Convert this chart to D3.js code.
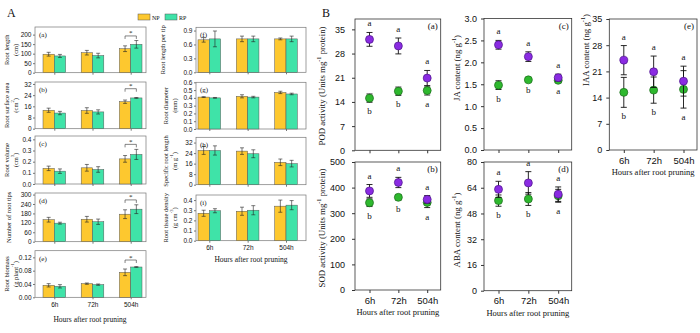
<!DOCTYPE html>
<html>
<head>
<meta charset="utf-8">
<script src="https://cdn.jsdelivr.net/npm/d3@7"></script>
<style>
  body { margin: 0; background: #fff; }
  svg { display: block; font-family: "Liberation Serif", "Times New Roman", serif; }
</style>
</head>
<body>
<svg id="chart" width="700" height="333"></svg>
<script>
var hours = ['6h', '72h', '504h'];

// ---- panel A (bars), NP = yellow, RP = green ----
var rootLengthNP = [97, 105, 126],       rootLengthNPErr = [10, 12, 15];
var rootLengthRP = [88, 90, 149],        rootLengthRPErr = [8, 12, 20];
var surfaceNP = [13.2, 13.0, 19.3],      surfaceNPErr = [1.5, 2.0, 1.2];
var surfaceRP = [11.2, 12.0, 22.0],      surfaceRPErr = [1.2, 1.5, 0.3];
var volumeNP = [0.14, 0.145, 0.225],     volumeNPErr = [0.02, 0.03, 0.03];
var volumeRP = [0.115, 0.13, 0.265],     volumeRPErr = [0.02, 0.025, 0.045];
var tipsNP = [140, 143, 175],            tipsNPErr = [15, 18, 28];
var tipsRP = [118, 127, 207],            tipsRPErr = [6, 17, 28];
var biomassNP = [0.036, 0.041, 0.075],   biomassNPErr = [0.005, 0.002, 0.01];
var biomassRP = [0.033, 0.038, 0.091],   biomassRPErr = [0.005, 0.002, 0.001];
var perTipNP = [0.70, 0.72, 0.72],       perTipNPErr = [0.05, 0.06, 0.02];
var perTipRP = [0.72, 0.72, 0.72],       perTipRPErr = [0.17, 0.06, 0.06];
var diameterNP = [0.41, 0.42, 0.47],     diameterNPErr = [0.005, 0.02, 0.015];
var diameterRP = [0.40, 0.41, 0.45],     diameterRPErr = [0.005, 0.01, 0.01];
var srlNP = [26, 25.5, 17],              srlNPErr = [3, 2.5, 2.5];
var srlRP = [26, 23.5, 16],              srlRPErr = [3.5, 3, 2.5];
var densityNP = [0.27, 0.29, 0.34],      densityNPErr = [0.03, 0.04, 0.06];
var densityRP = [0.295, 0.30, 0.35],     densityRPErr = [0.02, 0.045, 0.045];

// ---- panel B (points), green / purple ----
var podGreen = [15.1, 17.1, 17.3],       podGreenErr = [1.2, 1.2, 1.3];
var podPurple = [32.1, 30.2, 20.9],      podPurpleErr = [2.0, 2.3, 2.2];
var sodGreen = [341, 362, 342],          sodGreenErr = [15, 10, 20];
var sodPurple = [387, 420, 354],         sodPurpleErr = [25, 20, 15];
var jaGreen = [1.48, 1.60, 1.59],        jaGreenErr = [0.1, 0.03, 0.04];
var jaPurple = [2.40, 2.13, 1.65],       jaPurpleErr = [0.1, 0.11, 0.08];
var abaGreen = [56, 57, 59],             abaGreenErr = [3.5, 4, 4];
var abaPurple = [63, 67, 60],            abaPurpleErr = [5, 7, 4.5];
var iaaGreen = [15.4, 16.0, 16.2],       iaaGreenErr = [4, 3.5, 5];
var iaaPurple = [24.0, 20.9, 18.4],      iaaPurpleErr = [3.9, 4.2, 4];
var lettersPurple = ['a', 'a', 'a'];
var lettersGreen = ['b', 'b', 'a'];

var NP_COLOR = '#fdc82f', RP_COLOR = '#3fe3a8';
var GREEN_DOT = '#2eb82e', PURPLE_DOT = '#8a2be2';
var INK = '#111';

var svg = d3.select('#chart');

// text with ^sup^ parts
function richText(sel, str, fs) {
  var parts = str.split('^');
  parts.forEach(function (t, i) {
    if (!t) return;
    if (i % 2 == 1) {
      sel.append('tspan').attr('font-size', fs * 0.7).attr('dy', -fs * 0.35).text(t);
    }
    else {
      sel.append('tspan').attr('dy', i > 0 ? fs * 0.35 : 0).text(t);
    }
  });
}

var colLeft = { x0: 35, x1: 146, range: [54.3, 130.7], titleX: [6, 14.5] };
var colRight = { x0: 196, x1: 306, range: [209.3, 286], titleX: [165, 173.5] };

function drawBarPanel(p) {
  var g = svg.append('g');
  var col = p.col;
  var y = d3.scaleLinear().domain([0, p.max]).range([p.y1, p.y0]);
  var x = d3.scalePoint().domain(hours).range(col.range);
  var bw = 11.3;

  g.append('rect')
    .attr('x', col.x0).attr('y', p.y0)
    .attr('width', col.x1 - col.x0).attr('height', p.y1 - p.y0)
    .attr('fill', 'none').attr('stroke', '#777').attr('stroke-width', 0.7);

  var ya = g.append('g').attr('transform', 'translate(' + col.x0 + ',0)')
    .call(d3.axisLeft(y).tickValues(p.ticks).tickSize(2).tickPadding(1.5).tickFormat(d3.format(p.fmt)));
  ya.select('.domain').remove();
  ya.selectAll('text').attr('font-size', 6.5).attr('font-family', null).attr('fill', INK);
  ya.selectAll('line').attr('stroke', '#777');

  var xa = g.append('g').attr('transform', 'translate(0,' + p.y1 + ')')
    .call(d3.axisBottom(x).tickSize(2).tickPadding(3).tickFormat(p.xlabels ? null : ''));
  xa.select('.domain').remove();
  xa.selectAll('text').attr('font-size', 6.5).attr('font-family', null).attr('fill', INK);
  xa.selectAll('line').attr('stroke', '#777');

  var series = [
    { vals: p.np, err: p.npErr, color: NP_COLOR, off: -bw },
    { vals: p.rp, err: p.rpErr, color: RP_COLOR, off: 0 }
  ];
  series.forEach(function (s) {
    var sg = g.append('g');
    sg.selectAll('rect').data(s.vals).enter().append('rect')
      .attr('x', function (d, i) { return x(hours[i]) + s.off; })
      .attr('y', function (d) { return y(d); })
      .attr('width', bw)
      .attr('height', function (d) { return p.y1 - y(d); })
      .attr('fill', s.color).attr('stroke', '#555').attr('stroke-width', 0.5);
    var eg = sg.selectAll('g.err').data(s.vals).enter().append('g').attr('class', 'err');
    eg.each(function (d, i) {
      var cx = x(hours[i]) + s.off + bw / 2;
      var e = s.err[i];
      var el = d3.select(this);
      el.append('line').attr('x1', cx).attr('x2', cx).attr('y1', y(d - e)).attr('y2', y(d + e));
      el.append('line').attr('x1', cx - 2).attr('x2', cx + 2).attr('y1', y(d - e)).attr('y2', y(d - e));
      el.append('line').attr('x1', cx - 2).attr('x2', cx + 2).attr('y1', y(d + e)).attr('y2', y(d + e));
      el.selectAll('line').attr('stroke', '#222').attr('stroke-width', 0.6);
    });
  });

  if (p.sig != null) {
    var bx0 = x('504h') - bw / 2, bx1 = x('504h') + bw / 2, by = y(p.sig);
    g.append('path')
      .attr('d', 'M' + bx0 + ',' + (by + 3) + 'V' + by + 'H' + bx1 + 'V' + (by + 3))
      .attr('fill', 'none').attr('stroke', '#333').attr('stroke-width', 0.6);
    g.append('text').attr('x', (bx0 + bx1) / 2).attr('y', by - 0.5)
      .attr('text-anchor', 'middle').attr('font-size', 7).attr('fill', INK).text('*');
  }

  g.append('text').attr('x', col.x0 + 4).attr('y', p.y0 + 10)
    .attr('font-size', 7).attr('fill', INK).text(p.label);

  var cy = (p.y0 + p.y1) / 2;
  p.title.forEach(function (line, i) {
    var tx = p.title.length == 1 ? p.singleX : col.titleX[i];
    var t = g.append('text')
      .attr('transform', 'translate(' + tx + ',' + cy + ') rotate(-90)')
      .attr('text-anchor', 'middle').attr('dominant-baseline', 'central')
      .attr('font-size', 6.5).attr('fill', INK);
    richText(t, line, 6.5);
  });
}

var barPanels = [
  { col: colLeft, y0: 27, y1: 72.7, max: 240, ticks: [0, 50, 100, 150, 200], fmt: 'd',
    np: rootLengthNP, npErr: rootLengthNPErr, rp: rootLengthRP, rpErr: rootLengthRPErr,
    sig: 193, label: '(a)', title: ['Root length', '(cm)'] },
  { col: colLeft, y0: 82, y1: 128.7, max: 33.4, ticks: [0, 8, 16, 24, 32], fmt: 'd',
    np: surfaceNP, npErr: surfaceNPErr, rp: surfaceRP, rpErr: surfaceRPErr,
    sig: 28.6, label: '(b)', title: ['Root surface area', '(cm^2^)'] },
  { col: colLeft, y0: 136, y1: 184, max: 0.43, ticks: [0, 0.1, 0.2, 0.3, 0.4], fmt: '.1f',
    np: volumeNP, npErr: volumeNPErr, rp: volumeRP, rpErr: volumeRPErr,
    sig: 0.355, label: '(c)', title: ['Root volume', '(cm^3^)'] },
  { col: colLeft, y0: 193, y1: 241.7, max: 310, ticks: [0, 60, 120, 180, 240, 300], fmt: 'd',
    np: tipsNP, npErr: tipsNPErr, rp: tipsRP, rpErr: tipsRPErr,
    sig: 266, label: '(d)', title: ['Number of root tips'], singleX: 8 },
  { col: colLeft, y0: 250.7, y1: 297.3, max: 0.14, ticks: [0, 0.04, 0.08, 0.12], fmt: '.2f',
    np: biomassNP, npErr: biomassNPErr, rp: biomassRP, rpErr: biomassRPErr,
    sig: 0.112, label: '(e)', title: ['Root biomass', '(g plant^-1^)'], xlabels: true },
  { col: colRight, y0: 27.3, y1: 72.3, max: 0.97, ticks: [0, 0.3, 0.6, 0.9], fmt: '.1f',
    np: perTipNP, npErr: perTipNPErr, rp: perTipRP, rpErr: perTipRPErr,
    sig: null, label: '(f)', title: ['Root length per tip'], singleX: 162 },
  { col: colRight, y0: 82.3, y1: 129, max: 0.6, ticks: [0, 0.1, 0.2, 0.3, 0.4, 0.5, 0.6], fmt: '.1f',
    np: diameterNP, npErr: diameterNPErr, rp: diameterRP, rpErr: diameterRPErr,
    sig: null, label: '(g)', title: ['Root diameter', '(mm)'] },
  { col: colRight, y0: 137.3, y1: 184.7, max: 36, ticks: [0, 8, 16, 24, 32], fmt: 'd',
    np: srlNP, npErr: srlNPErr, rp: srlRP, rpErr: srlRPErr,
    sig: null, label: '(h)', title: ['Specific root length', '(m g^-1^)'] },
  { col: colRight, y0: 195, y1: 240.7, max: 0.45, ticks: [0, 0.1, 0.2, 0.3, 0.4], fmt: '.1f',
    np: densityNP, npErr: densityNPErr, rp: densityRP, rpErr: densityRPErr,
    sig: null, label: '(i)', title: ['Root tissue density', '(g cm^-3^)'], xlabels: true }
];
barPanels.forEach(drawBarPanel);

// panel A extras
svg.append('text').attr('x', 7).attr('y', 17).attr('font-size', 12).attr('fill', INK).text('A');
var legend = [{ name: 'NP', color: NP_COLOR, x: 138 }, { name: 'RP', color: RP_COLOR, x: 165 }];
legend.forEach(function (l) {
  svg.append('rect').attr('x', l.x).attr('y', 14).attr('width', 12).attr('height', 6)
    .attr('fill', l.color).attr('stroke', '#555').attr('stroke-width', 0.5);
  svg.append('text').attr('x', l.x + 14).attr('y', 19.5).attr('font-size', 6).attr('fill', INK).text(l.name);
});
svg.append('text').attr('x', 90).attr('y', 322).attr('text-anchor', 'middle')
  .attr('font-size', 7.5).attr('fill', INK).text('Hours after root pruning');
svg.append('text').attr('x', 251).attr('y', 262).attr('text-anchor', 'middle')
  .attr('font-size', 7.5).attr('fill', INK).text('Hours after root pruning');

// ---- panel B ----
function drawPointPanel(p) {
  var g = svg.append('g');
  var y = d3.scaleLinear().domain([0, p.max]).range([p.y1, p.y0]);
  var x = d3.scalePoint().domain(hours).range([p.x0 + 14.5, p.x1 - 13.5]);

  g.append('rect')
    .attr('x', p.x0).attr('y', p.y0)
    .attr('width', p.x1 - p.x0).attr('height', p.y1 - p.y0)
    .attr('fill', 'none').attr('stroke', '#333').attr('stroke-width', 0.8);

  var ya = g.append('g').attr('transform', 'translate(' + p.x0 + ',0)')
    .call(d3.axisLeft(y).tickValues(p.ticks).tickSize(3).tickPadding(p.pad || 4).tickFormat(d3.format(p.fmt)));
  ya.select('.domain').remove();
  ya.selectAll('text').attr('font-size', 9).attr('font-family', null).attr('fill', INK);
  ya.selectAll('line').attr('stroke', '#333');

  var xa = g.append('g').attr('transform', 'translate(0,' + p.y1 + ')')
    .call(d3.axisBottom(x).tickSize(3).tickPadding(4).tickFormat(p.xlabels ? null : ''));
  xa.select('.domain').remove();
  xa.selectAll('text').attr('font-size', 9.5).attr('font-family', null).attr('fill', INK);
  xa.selectAll('line').attr('stroke', '#333');

  var series = [
    { vals: p.green, err: p.greenErr, color: GREEN_DOT, stroke: '#1b6a1b', letters: lettersGreen, above: false },
    { vals: p.purple, err: p.purpleErr, color: PURPLE_DOT, stroke: '#4b1487', letters: lettersPurple, above: true }
  ];
  series.forEach(function (s) {
    var sg = g.append('g');
    s.vals.forEach(function (d, i) {
      var cx = x(hours[i]), e = s.err[i];
      sg.append('line').attr('x1', cx).attr('x2', cx).attr('y1', y(d - e)).attr('y2', y(d + e));
      sg.append('line').attr('x1', cx - 3).attr('x2', cx + 3).attr('y1', y(d - e)).attr('y2', y(d - e));
      sg.append('line').attr('x1', cx - 3).attr('x2', cx + 3).attr('y1', y(d + e)).attr('y2', y(d + e));
    });
    sg.selectAll('line').attr('stroke', '#111').attr('stroke-width', 0.9);
    sg.selectAll('circle').data(s.vals).enter().append('circle')
      .attr('cx', function (d, i) { return x(hours[i]); })
      .attr('cy', function (d) { return y(d); })
      .attr('r', 4).attr('fill', s.color).attr('stroke', s.stroke).attr('stroke-width', 0.7);
    sg.selectAll('text').data(s.vals).enter().append('text')
      .attr('x', function (d, i) { return x(hours[i]); })
      .attr('y', function (d, i) {
        return s.above ? y(d + s.err[i]) - 9 : y(d - s.err[i]) + 9;
      })
      .attr('text-anchor', 'middle').attr('dominant-baseline', 'central')
      .attr('font-size', 9).attr('fill', INK)
      .text(function (d, i) { return s.letters[i]; });
  });

  g.append('text').attr('x', p.x1 - 3).attr('y', p.y0 + 7)
    .attr('text-anchor', 'end').attr('dominant-baseline', 'central')
    .attr('font-size', 9).attr('fill', INK).text(p.label);

  var t = g.append('text')
    .attr('transform', 'translate(' + p.titleX + ',' + p.titleY + ') rotate(-90)')
    .attr('text-anchor', 'middle').attr('dominant-baseline', 'central')
    .attr('font-size', 8.8).attr('fill', INK);
  richText(t, p.title, 8.8);

  if (p.xlabels) {
    g.append('text').attr('x', (p.x0 + p.x1) / 2).attr('y', p.y1 + 25)
      .attr('text-anchor', 'middle').attr('font-size', 8.5).attr('fill', INK)
      .text('Hours after root pruning');
  }
}

var pointPanels = [
  { x0: 355, x1: 440.7, y0: 19, y1: 150.3, max: 38, ticks: [0, 7, 14, 21, 28, 35], fmt: 'd', pad: 7,
    green: podGreen, greenErr: podGreenErr, purple: podPurple, purpleErr: podPurpleErr,
    label: '(a)', title: 'POD activity (Units mg^-1^ protein)', titleX: 322, titleY: 86 },
  { x0: 355, x1: 440.7, y0: 162, y1: 290, max: 500, ticks: [0, 100, 200, 300, 400, 500], fmt: 'd', pad: 7,
    green: sodGreen, greenErr: sodGreenErr, purple: sodPurple, purpleErr: sodPurpleErr,
    label: '(b)', title: 'SOD activity (Units mg^-1^ protein)', titleX: 322, titleY: 228, xlabels: true },
  { x0: 484, x1: 571.7, y0: 18.5, y1: 150, max: 3, ticks: [0, 0.5, 1, 1.5, 2, 2.5, 3], fmt: '.1f',
    green: jaGreen, greenErr: jaGreenErr, purple: jaPurple, purpleErr: jaPurpleErr,
    label: '(c)', title: 'JA content (ng g^-1^)', titleX: 457, titleY: 68 },
  { x0: 484, x1: 571.7, y0: 162, y1: 290.7, max: 80, ticks: [0, 16, 32, 48, 64, 80], fmt: 'd',
    green: abaGreen, greenErr: abaGreenErr, purple: abaPurple, purpleErr: abaPurpleErr,
    label: '(d)', title: 'ABA content (ng g^-1^)', titleX: 457, titleY: 230, xlabels: true },
  { x0: 609.3, x1: 697, y0: 19, y1: 150, max: 35, ticks: [0, 7, 14, 21, 28, 35], fmt: 'd',
    green: iaaGreen, greenErr: iaaGreenErr, purple: iaaPurple, purpleErr: iaaPurpleErr,
    label: '(e)', title: 'IAA content (ng g^-1^)', titleX: 586, titleY: 50, xlabels: true }
];
pointPanels.forEach(drawPointPanel);

svg.append('text').attr('x', 322).attr('y', 17).attr('font-size', 12).attr('fill', INK).text('B');
</script>
</body>
</html>
